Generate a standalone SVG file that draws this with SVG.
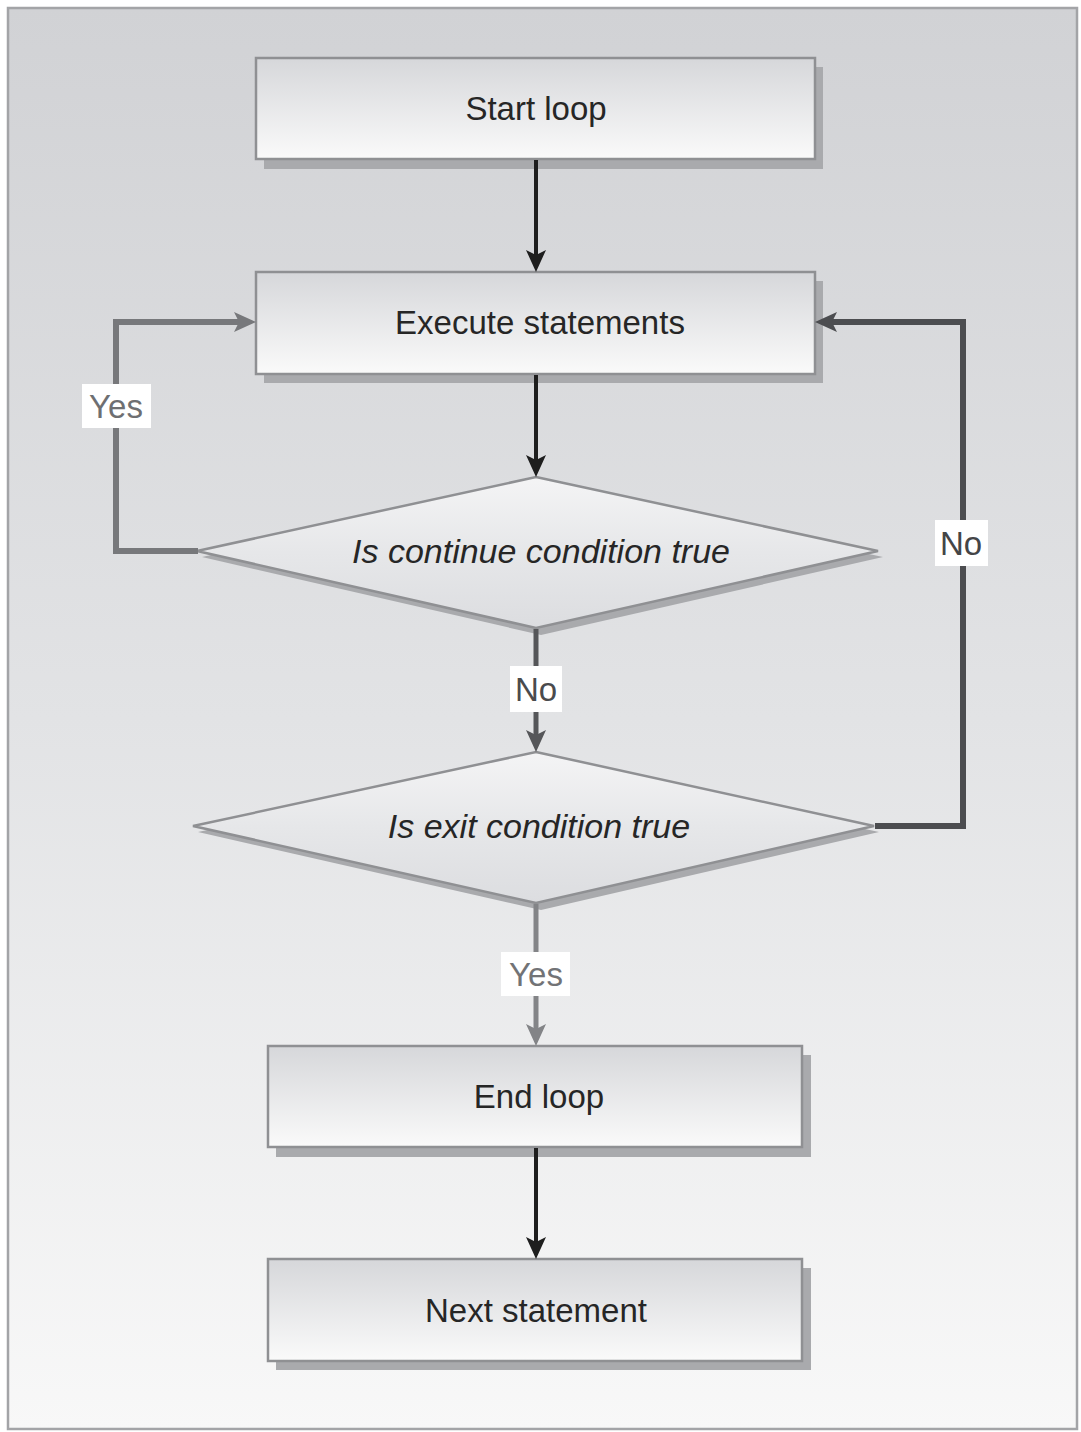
<svg xmlns="http://www.w3.org/2000/svg" width="1081" height="1432" viewBox="0 0 1081 1432">
  <defs>
    <linearGradient id="bg" x1="0" y1="0" x2="0" y2="1">
      <stop offset="0" stop-color="#d1d2d5"/>
      <stop offset="0.5" stop-color="#e2e3e5"/>
      <stop offset="1" stop-color="#f8f8f8"/>
    </linearGradient>
    <linearGradient id="boxFill" x1="0" y1="0" x2="0" y2="1">
      <stop offset="0" stop-color="#d6d7da"/>
      <stop offset="1" stop-color="#fafafa"/>
    </linearGradient>
    <linearGradient id="diamondFill" x1="0" y1="0" x2="0" y2="1">
      <stop offset="0" stop-color="#f4f4f5"/>
      <stop offset="0.5" stop-color="#e6e7e9"/>
      <stop offset="1" stop-color="#dcdde0"/>
    </linearGradient>
    <marker id="ahBlack" viewBox="0 0 22 20" refX="12" refY="10" markerWidth="22" markerHeight="20" markerUnits="userSpaceOnUse" orient="auto">
      <path d="M0,0 L22,10 L0,20 L5,10 z" fill="#1e1e1e"/>
    </marker>
    <marker id="ahYesLeft" viewBox="0 0 22 20" refX="12" refY="10" markerWidth="22" markerHeight="20" markerUnits="userSpaceOnUse" orient="auto">
      <path d="M0,0 L22,10 L0,20 L5,10 z" fill="#77787b"/>
    </marker>
    <marker id="ahNoRight" viewBox="0 0 22 20" refX="12" refY="10" markerWidth="22" markerHeight="20" markerUnits="userSpaceOnUse" orient="auto">
      <path d="M0,0 L22,10 L0,20 L5,10 z" fill="#4c4d50"/>
    </marker>
    <marker id="ahNoMid" viewBox="0 0 22 20" refX="12" refY="10" markerWidth="22" markerHeight="20" markerUnits="userSpaceOnUse" orient="auto">
      <path d="M0,0 L22,10 L0,20 L5,10 z" fill="#555659"/>
    </marker>
    <marker id="ahYesBottom" viewBox="0 0 22 20" refX="12" refY="10" markerWidth="22" markerHeight="20" markerUnits="userSpaceOnUse" orient="auto">
      <path d="M0,0 L22,10 L0,20 L5,10 z" fill="#838487"/>
    </marker>
    <style>
      .box { fill: url(#boxFill); stroke: #8f9093; stroke-width: 2.5; }
      .shadow { fill: #a9aaad; }
      .diamond { fill: url(#diamondFill); stroke: #8f9093; stroke-width: 2.5; }
      .node-text { font-family: "Liberation Sans", Arial, sans-serif; font-size: 33px; fill: #262626; text-anchor: middle; }
      .cond-text { font-family: "Liberation Sans", Arial, sans-serif; font-size: 34px; font-style: italic; fill: #262626; text-anchor: middle; }
      .wire { fill: none; stroke-linejoin: miter; }
      .label-bg { fill: #ffffff; }
      .label { font-family: "Liberation Sans", Arial, sans-serif; font-size: 33px; text-anchor: middle; }
    </style>
  </defs>

  <!-- panel -->
  <rect x="8" y="8" width="1069" height="1421" fill="url(#bg)" stroke="#a3a4a7" stroke-width="2.5"/>

  <!-- nodes -->
  <g id="start-loop">
    <rect class="shadow" x="264" y="67" width="559" height="102"/>
    <rect class="box" x="256" y="58" width="559" height="101"/>
    <text class="node-text" x="536" y="120">Start loop</text>
  </g>

  <g id="execute-statements">
    <rect class="shadow" x="264" y="281" width="559" height="102"/>
    <rect class="box" x="256" y="272" width="559" height="102"/>
    <text class="node-text" x="540" y="334">Execute statements</text>
  </g>

  <g id="continue-condition">
    <polygon class="shadow" points="541,484 883,557 541,635 202,557"/>
    <polygon class="diamond" points="536,477 878,551 536,628 197,551"/>
    <text class="cond-text" x="541" y="563">Is continue condition true</text>
  </g>

  <g id="exit-condition">
    <polygon class="shadow" points="541,759 879,832 541,910 198,832"/>
    <polygon class="diamond" points="536,752 874,826 536,903 193,826"/>
    <text class="cond-text" x="539" y="838">Is exit condition true</text>
  </g>

  <g id="end-loop">
    <rect class="shadow" x="276" y="1055" width="535" height="102"/>
    <rect class="box" x="268" y="1046" width="534" height="101"/>
    <text class="node-text" x="539" y="1108">End loop</text>
  </g>

  <g id="next-statement">
    <rect class="shadow" x="276" y="1268" width="535" height="102"/>
    <rect class="box" x="268" y="1259" width="534" height="102"/>
    <text class="node-text" x="536" y="1322">Next statement</text>
  </g>

  <!-- connectors -->
  <g id="connectors">
    <path class="wire" d="M536,160 L536,262" stroke="#1e1e1e" stroke-width="4" marker-end="url(#ahBlack)"/>
    <path class="wire" d="M536,375 L536,467" stroke="#1e1e1e" stroke-width="4" marker-end="url(#ahBlack)"/>
    <path class="wire" d="M198,551 L116,551 L116,322 L246,322" stroke="#77787b" stroke-width="6" marker-end="url(#ahYesLeft)"/>
    <path class="wire" d="M875,826 L963,826 L963,322 L825,322" stroke="#4c4d50" stroke-width="6" marker-end="url(#ahNoRight)"/>
    <path class="wire" d="M536,629 L536,742" stroke="#555659" stroke-width="5" marker-end="url(#ahNoMid)"/>
    <path class="wire" d="M536,904 L536,1036" stroke="#838487" stroke-width="5" marker-end="url(#ahYesBottom)"/>
    <path class="wire" d="M536,1148 L536,1249" stroke="#1e1e1e" stroke-width="4" marker-end="url(#ahBlack)"/>

    <!-- branch labels -->
    <g id="label-yes-continue">
      <rect class="label-bg" x="82" y="384" width="69" height="44"/>
      <text class="label" x="116" y="418" fill="#6e6f72">Yes</text>
    </g>
    <g id="label-no-exit">
      <rect class="label-bg" x="935" y="520" width="53" height="46"/>
      <text class="label" x="961" y="555" fill="#444547">No</text>
    </g>
    <g id="label-no-continue">
      <rect class="label-bg" x="510" y="666" width="52" height="46"/>
      <text class="label" x="536" y="701" fill="#4a4b4d">No</text>
    </g>
    <g id="label-yes-exit">
      <rect class="label-bg" x="501" y="952" width="69" height="44"/>
      <text class="label" x="536" y="986" fill="#727376">Yes</text>
    </g>
  </g>
</svg>
